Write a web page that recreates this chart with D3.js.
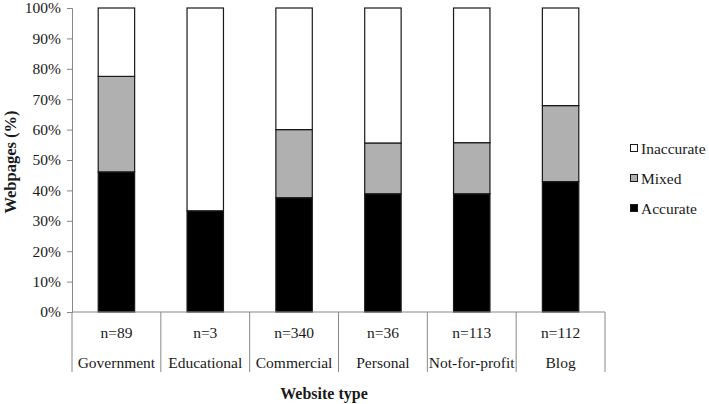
<!DOCTYPE html>
<html>
<head>
<meta charset="utf-8">
<script src="https://cdn.jsdelivr.net/npm/d3@7"></script>
<style>
  body { margin: 0; background: #fff; }
  svg { display: block; }
  svg text { font-family: "Liberation Serif", "Times New Roman", Times, "DejaVu Serif", serif; }
</style>
</head>
<body>
<svg id="mainFrame"></svg>
<script>
// website types and sample sizes
const categories = ["Government", "Educational", "Commercial", "Personal", "Not-for-profit", "Blog"];
const counts = ["n=89", "n=3", "n=340", "n=36", "n=113", "n=112"];

// percentages of webpages
const accurate = [46.1, 33.3, 37.6, 38.9, 38.9, 42.9];
const mixed = [31.4, 0, 22.4, 16.7, 16.8, 25.0];
const inaccurate = [22.5, 66.7, 40.0, 44.4, 44.3, 32.1];

const seriesNames = ["Accurate", "Mixed", "Inaccurate"];
const seriesColors = ["#000000", "#b0b0b0", "#ffffff"];
const yTicks = [0, 10, 20, 30, 40, 50, 60, 70, 80, 90, 100];

const width = 709, height = 404;

const rows = categories.map((c, i) => ({
    cat: c, Accurate: accurate[i], Mixed: mixed[i], Inaccurate: inaccurate[i]
}));

const x = d3.scaleBand()
    .domain(categories)
    .range([72, 605]);

const y = d3.scaleLinear()
    .domain([0, 100])
    .range([312, 8]);

const svg = d3.select("#mainFrame")
    .attr("width", width)
    .attr("height", height);

const stack = d3.stack().keys(seriesNames)(rows);
const barW = x.bandwidth() * 0.41;

// bars
svg.append("g")
    .selectAll("g")
    .data(stack)
    .join("g")
    .attr("fill", (d, i) => seriesColors[i])
    .selectAll("rect")
    .data(d => d.filter(p => p[1] - p[0] > 0))
    .join("rect")
    .attr("x", d => x(d.data.cat) + x.bandwidth() / 2 - barW / 2)
    .attr("y", d => y(d[1]))
    .attr("width", barW)
    .attr("height", d => y(d[0]) - y(d[1]))
    .attr("stroke", "#1a1a1a")
    .attr("stroke-width", 1.2);

// y axis
const yAxis = svg.append("g")
    .attr("transform", "translate(72,0)")
    .call(d3.axisLeft(y).tickValues(yTicks).tickFormat(d => d + "%").tickSize(5).tickPadding(6));
yAxis.attr("font-family", null);
yAxis.select(".domain").attr("stroke", "#888");
yAxis.selectAll(".tick line").attr("stroke", "#888");
yAxis.selectAll(".tick text")
    .style("font-size", "15.5px")
    .attr("fill", "#1a1a1a");

// category axis: baseline, dividers, labels
const grey = "#888";
svg.append("line")
    .attr("x1", x.range()[0]).attr("x2", x.range()[1])
    .attr("y1", y(0)).attr("y2", y(0))
    .attr("stroke", grey);

const edges = categories.map(c => x(c)).concat([x.range()[1]]);
svg.append("g")
    .selectAll("line")
    .data(edges)
    .join("line")
    .attr("x1", d => d).attr("x2", d => d)
    .attr("y1", y(0)).attr("y2", 372)
    .attr("stroke", grey);

svg.append("g")
    .selectAll("text")
    .data(counts)
    .join("text")
    .attr("x", (d, i) => x(categories[i]) + x.bandwidth() / 2)
    .attr("y", 338)
    .attr("text-anchor", "middle")
    .style("font-size", "15.5px")
    .attr("fill", "#1a1a1a")
    .text(d => d);

svg.append("g")
    .selectAll("text")
    .data(categories)
    .join("text")
    .attr("x", d => x(d) + x.bandwidth() / 2)
    .attr("y", 368)
    .attr("text-anchor", "middle")
    .style("font-size", "15.5px")
    .attr("fill", "#1a1a1a")
    .text(d => d);

// axis titles
svg.append("text")
    .attr("x", 324)
    .attr("y", 399)
    .attr("text-anchor", "middle")
    .style("font-size", "16px")
    .style("font-weight", "bold")
    .attr("fill", "#1a1a1a")
    .text("Website type");

svg.append("text")
    .attr("transform", "translate(16,162) rotate(-90)")
    .attr("text-anchor", "middle")
    .style("font-size", "16.5px")
    .style("font-weight", "bold")
    .attr("fill", "#1a1a1a")
    .text("Webpages (%)");

// legend, top to bottom: Inaccurate, Mixed, Accurate
const legendItems = seriesNames.map((n, i) => ({ name: n, color: seriesColors[i] })).reverse();
const legend = svg.append("g")
    .selectAll("g")
    .data(legendItems)
    .join("g")
    .attr("transform", (d, i) => `translate(630,${154 + i * 30})`);

legend.append("rect")
    .attr("x", 0.5).attr("y", -9.5)
    .attr("width", 7).attr("height", 7)
    .attr("fill", d => d.color)
    .attr("stroke", "#1a1a1a");

legend.append("text")
    .attr("x", 11)
    .attr("y", 0)
    .style("font-size", "15.5px")
    .attr("fill", "#1a1a1a")
    .text(d => d.name);
</script>
</body>
</html>
